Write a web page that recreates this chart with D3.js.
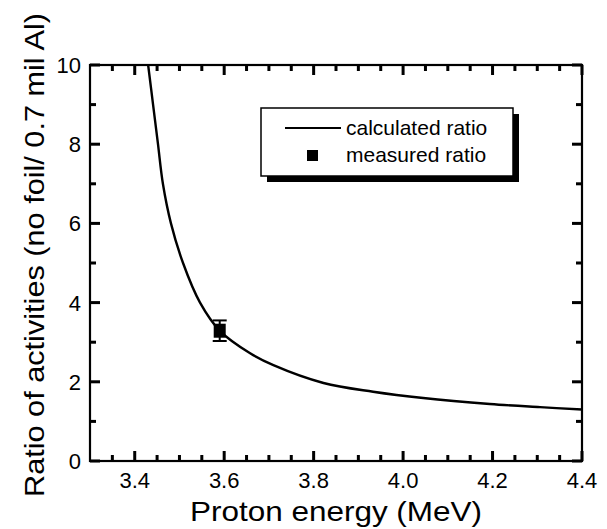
<!DOCTYPE html>
<html lang="en">
<head>
  <meta charset="UTF-8">
  <script src="https://cdn.jsdelivr.net/npm/d3@7/dist/d3.min.js"></script>
  <title>Ratio of activities</title>
  <style>
    body { margin: 0; background: #fff; }
    text { font-family: "Liberation Sans", Arial, sans-serif; fill: #000; }
  </style>
</head>
<body>
  <script>
    // calculated ratio curve
    const calcEnergy = [3.430, 3.441, 3.452, 3.463, 3.481, 3.508, 3.546, 3.591, 3.658, 3.710, 3.822, 3.933, 4.045, 4.194, 4.306, 4.400];
    const calcRatio = [10.0, 9.0, 8.0, 7.0, 6.0, 5.0, 4.0, 3.28, 2.72, 2.42, 1.97, 1.75, 1.59, 1.44, 1.36, 1.30];
    // measured point with error bar
    const measEnergy = [3.59];
    const measRatio = [3.29];
    const measErr = [0.26];

    const xMajor = [3.4, 3.6, 3.8, 4.0, 4.2, 4.4];
    const yMajor = [0, 2, 4, 6, 8, 10];
    const legendLabels = ["calculated ratio", "measured ratio"];

    const width = 607, height = 529;
    const mLeft = 90, mRight = 582, mTop = 65, mBottom = 461;

    const x = d3.scaleLinear().domain([3.3, 4.4]).range([mLeft, mRight]);
    const y = d3.scaleLinear().domain([0, 10]).range([mBottom, mTop]);

    const xMinor = [3.35, 3.45, 3.5, 3.55, 3.65, 3.7, 3.75, 3.85, 3.9, 3.95, 4.05, 4.1, 4.15, 4.25, 4.3, 4.35];
    const yMinor = [1, 3, 5, 7, 9];

    const svg = d3.select("body").append("svg")
      .attr("width", width)
      .attr("height", height)
      .style("display", "block");

    // tick labels
    svg.append("g").selectAll("text").data(xMajor).join("text")
      .attr("x", d => x(d)).attr("y", 488)
      .attr("text-anchor", "middle")
      .style("font-size", "22px")
      .text(d3.format(".1f"));
    svg.append("g").selectAll("text").data(yMajor).join("text")
      .attr("x", 81).attr("y", d => y(d) + 8)
      .attr("text-anchor", "end")
      .style("font-size", "22px")
      .text(d3.format("d"));

    // curve
    const curveData = calcEnergy.map((e, i) => [e, calcRatio[i]]);
    const line = d3.line()
      .x(d => x(d[0]))
      .y(d => y(d[1]))
      .curve(d3.curveCatmullRom.alpha(0.5));
    svg.append("path")
      .datum(curveData)
      .attr("d", line)
      .attr("fill", "none")
      .attr("stroke", "#000")
      .attr("stroke-width", 2.4);

    // measured point
    const meas = measEnergy.map((e, i) => ({ e, r: measRatio[i], err: measErr[i] }));
    const pts = svg.append("g").selectAll("g").data(meas).join("g");
    pts.append("line")
      .attr("x1", d => x(d.e)).attr("x2", d => x(d.e))
      .attr("y1", d => y(d.r - d.err)).attr("y2", d => y(d.r + d.err))
      .attr("stroke", "#000").attr("stroke-width", 2);
    [-1, 1].forEach(s => {
      pts.append("line")
        .attr("x1", d => x(d.e) - 7).attr("x2", d => x(d.e) + 7)
        .attr("y1", d => y(d.r + s * d.err)).attr("y2", d => y(d.r + s * d.err))
        .attr("stroke", "#000").attr("stroke-width", 2);
    });
    pts.append("rect")
      .attr("x", d => x(d.e) - 6).attr("y", d => y(d.r) - 7)
      .attr("width", 12).attr("height", 14)
      .attr("fill", "#000");

    // legend with drop shadow
    const lg = svg.append("g").attr("transform", "translate(261,108)");
    lg.append("rect").attr("x", 6).attr("y", 6).attr("width", 252).attr("height", 68).attr("fill", "#000");
    lg.append("rect").attr("width", 252).attr("height", 68)
      .attr("fill", "#fff").attr("stroke", "#000").attr("stroke-width", 1.5);
    lg.append("line").attr("x1", 24).attr("x2", 80).attr("y1", 20).attr("y2", 20)
      .attr("stroke", "#000").attr("stroke-width", 2);
    lg.append("rect").attr("x", 46).attr("y", 42).attr("width", 11).attr("height", 11).attr("fill", "#000");
    lg.selectAll("text.leg").data(legendLabels).join("text")
      .attr("class", "leg")
      .attr("x", 85)
      .attr("y", (d, i) => 27 + i * 27)
      .style("font-size", "21px")
      .text(d => d);

    // axis titles
    svg.append("text")
      .attr("x", (mLeft + mRight) / 2)
      .attr("y", 521)
      .attr("text-anchor", "middle")
      .attr("textLength", 292)
      .attr("lengthAdjust", "spacingAndGlyphs")
      .style("font-size", "28px")
      .text("Proton energy (MeV)");
    svg.append("text")
      .attr("transform", `translate(44,${(13 + 497) / 2}) rotate(-90)`)
      .attr("text-anchor", "middle")
      .attr("textLength", 484)
      .attr("lengthAdjust", "spacingAndGlyphs")
      .style("font-size", "28px")
      .text("Ratio of activities (no foil/ 0.7 mil Al)");

    // frame
    svg.append("rect")
      .attr("x", mLeft).attr("y", mTop)
      .attr("width", mRight - mLeft).attr("height", mBottom - mTop)
      .attr("fill", "none").attr("stroke", "#000").attr("stroke-width", 2.2);

    // inward ticks on all four sides
    const tk = svg.append("g").attr("fill", "#000");
    const xt = xMajor.map(v => ({ v, len: 10 })).concat(xMinor.map(v => ({ v, len: 6 })));
    const yt = yMajor.map(v => ({ v, len: 10 })).concat(yMinor.map(v => ({ v, len: 6 })));
    tk.selectAll("rect.xb").data(xt).join("rect").attr("class", "xb")
      .attr("x", d => x(d.v) - 1.5).attr("y", d => mBottom - d.len)
      .attr("width", 3).attr("height", d => d.len);
    tk.selectAll("rect.xt").data(xt).join("rect").attr("class", "xt")
      .attr("x", d => x(d.v) - 1.5).attr("y", mTop)
      .attr("width", 3).attr("height", d => d.len);
    tk.selectAll("rect.yl").data(yt).join("rect").attr("class", "yl")
      .attr("x", mLeft).attr("y", d => y(d.v) - 1.5)
      .attr("width", d => d.len).attr("height", 3);
    tk.selectAll("rect.yr").data(yt).join("rect").attr("class", "yr")
      .attr("x", d => mRight - d.len).attr("y", d => y(d.v) - 1.5)
      .attr("width", d => d.len).attr("height", 3);
  </script>
</body>
</html>
